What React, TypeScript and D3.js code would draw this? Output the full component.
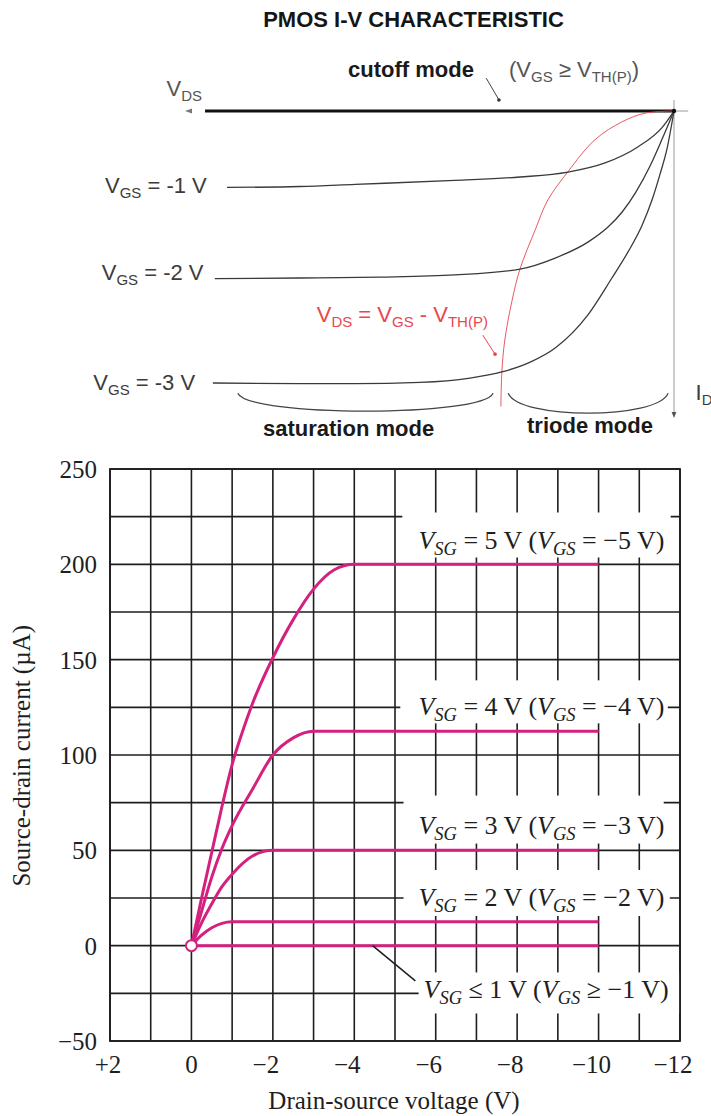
import React from "react";
import * as d3 from "d3";

const WIDTH = 711;
const HEIGHT = 1116;

const SANS = "'Liberation Sans', Arial, Helvetica, sans-serif";
const SERIF = "'Liberation Serif', 'Times New Roman', Times, serif";
const MAGENTA = "#d4217f";
const SKETCH_RED = "#e8474f";

// ---------- Lower chart: PMOS output characteristics ----------
const vdsTicks = [2, 0, -2, -4, -6, -8, -10, -12];
const vdsTickLabels = ["+2", "0", "−2", "−4", "−6", "−8", "−10", "−12"];
const idTicks = [250, 200, 150, 100, 50, 0, -50];
const idTickLabels = ["250", "200", "150", "100", "50", "0", "−50"];

// drain-source voltage (V) and source-drain current (µA) for each V_SG
const vdsSg5 = [0, -0.25, -0.5, -0.75, -1, -1.25, -1.5, -2, -2.5, -3, -3.5, -4, -10];
const idSg5 = [0, 25, 49, 73, 95, 112, 127, 151, 171, 187, 197, 200, 200];
const vdsSg4 = [0, -0.25, -0.5, -0.75, -1, -1.5, -2, -2.5, -3, -10];
const idSg4 = [0, 18, 36, 51, 63, 82, 100, 109, 112.5, 112.5];
const vdsSg3 = [0, -0.25, -0.5, -0.75, -1, -1.5, -2, -10];
const idSg3 = [0, 12, 22, 31, 37.5, 47, 50, 50];
const vdsSg2 = [0, -0.25, -0.5, -0.75, -1, -10];
const idSg2 = [0, 5.5, 9.4, 11.7, 12.5, 12.5];
const vdsSg1 = [0, -10];
const idSg1 = [0, 0];

const outputCurves = [
  { vds: vdsSg5, id: idSg5 },
  { vds: vdsSg4, id: idSg4 },
  { vds: vdsSg3, id: idSg3 },
  { vds: vdsSg2, id: idSg2 },
  { vds: vdsSg1, id: idSg1 },
];

// curve captions: V_SG (rel) value V (V_GS (rel) value V)
const captionSgRel = ["=", "=", "=", "=", "≤"];
const captionSgVal = ["5", "4", "3", "2", "1"];
const captionGsRel = ["=", "=", "=", "=", "≥"];
const captionGsVal = ["−5", "−4", "−3", "−2", "−1"];

// caption placement: text start (V), centre line (µA), cleared box (V) and pixel padding
const captionLayout = [
  { tx: -5.575, cy: 212.5, bx0: -5.18, bx1: -11.77, up: 28, down: 17 },
  { tx: -5.575, cy: 125, bx0: -5.13, bx1: -11.7, up: 27, down: 16 },
  { tx: -5.575, cy: 63, bx0: -5.21, bx1: -11.6, up: 30, down: 18 },
  { tx: -5.575, cy: 25, bx0: -5.21, bx1: -11.75, up: 28, down: 18 },
  { tx: -5.7, cy: -23.5, bx0: -5.58, bx1: -12, up: 18, down: 23 },
];

// pointer from the cut-off trace to its caption
const cutoffPointerV = [-4.45, -5.5];
const cutoffPointerI = [0, -18.5];

// ---------- Upper sketch: qualitative I-V curves (arbitrary units) ----------
const sketchVgs1V = [-9.14, -7.65, -6.52, -4.48, -3.15, -2.17, -1.41, -0.74, -0.25, 0];
const sketchVgs1I = [-2.49, -2.46, -2.39, -2.26, -2.15, -1.99, -1.69, -1.17, -0.55, 0];
const sketchVgs2V = [-9.39, -7.65, -6.01, -4.48, -3.15, -2.43, -1.76, -1.35, -1.06, -0.78, -0.49, -0.25, 0];
const sketchVgs2I = [-5.46, -5.44, -5.41, -5.34, -5.15, -4.79, -4.27, -3.78, -3.29, -2.64, -1.79, -0.94, 0];
const sketchVgs3V = [-9.43, -7.65, -6.52, -5.19, -4.17, -3.52, -2.94, -2.43, -1.76, -1.27, -0.94, -0.65, -0.45, -0.29, -0.14, 0];
const sketchVgs3I = [-8.86, -8.88, -8.88, -8.84, -8.7, -8.5, -8.18, -7.72, -6.64, -5.44, -4.59, -3.71, -2.9, -2.08, -1.21, 0];
const sketchEdgeV = [0, -0.59, -1.06, -1.62, -2.17, -2.58, -2.84, -3.15, -3.31, -3.46, -3.52, -3.54];
const sketchEdgeI = [0, -0.07, -0.35, -0.94, -1.98, -2.9, -3.88, -5.15, -6.16, -7.46, -8.5, -9.63];

const sketchCutoffV = [-9.59, 0];
const sketchCutoffI = [0, 0];

const zip = (a: number[], b: number[]): [number, number][] => a.map((v, i) => [v, b[i]]);

// Renders a run of text pieces, lowering and shrinking the ones marked as subscripts.
type Piece = [string, boolean];
function pieces(parts: Piece[], subSize: number, drop: number, italicSub = false) {
  let lowered = false;
  return parts.map(([txt, isSub], i) => {
    let dy: number | undefined;
    if (isSub && !lowered) dy = drop;
    if (!isSub && lowered) dy = -drop;
    lowered = isSub;
    return (
      <tspan
        key={i}
        dy={dy}
        fontSize={isSub ? subSize : undefined}
        fontStyle={isSub && italicSub ? "italic" : undefined}
      >
        {txt}
      </tspan>
    );
  });
}

export default function App() {
  // lower chart scales
  const x = d3.scaleLinear().domain([2, -12]).range([110, 680]);
  const y = d3.scaleLinear().domain([-50, 250]).range([1041, 469]);
  const gridV = d3.range(2, -12.5, -1);
  const gridH = d3.range(-50, 251, 25);
  const curveLine = d3
    .line<[number, number]>()
    .x((d) => x(d[0]))
    .y((d) => y(d[1]))
    .curve(d3.curveMonotoneX);

  // sketch scales
  const sx = d3.scaleLinear().domain([0, -10]).range([674, 185]);
  const sy = d3.scaleLinear().domain([0, -10]).range([111, 418]);
  const sketchLine = d3
    .line<[number, number]>()
    .x((d) => sx(d[0]))
    .y((d) => sy(d[1]))
    .curve(d3.curveMonotoneX);
  const edgeLine = d3
    .line<[number, number]>()
    .x((d) => sx(d[0]))
    .y((d) => sy(d[1]))
    .curve(d3.curveCatmullRom.alpha(0.5));

  const brace = (v0: number, v1: number, i0: number, depth: number) => {
    const x0 = sx(v0), x1 = sx(v1), y0 = sy(i0);
    const c = (depth * 4) / 3;
    return `M${x0},${y0} C${x0 + 10},${y0 + c} ${x1 - 10},${y0 + c} ${x1},${y0}`;
  };

  const textGrey = "#3c3c3c";

  return (
    <svg
      width={WIDTH}
      height={HEIGHT}
      viewBox={`0 0 ${WIDTH} ${HEIGHT}`}
      style={{ position: "absolute", left: 0, top: 0, display: "block", background: "#fff" }}
    >
      <rect width={WIDTH} height={HEIGHT} fill="#fff" />

      {/* ---------------- upper sketch ---------------- */}
      <g fontFamily={SANS}>
        <text x={413.5} y={27} textAnchor="middle" fontSize={22} fontWeight="bold" fill="#151515">
          PMOS I-V CHARACTERISTIC
        </text>

        {/* axes */}
        <line x1={sx(-9.59)} x2={sx(0.29)} y1={sy(0)} y2={sy(0)} stroke="#9a9a9a" strokeWidth={1} />
        <path d={`M${sx(-10)},${sy(0)} l7,-2.6 l0,5.2 z`} fill="#777" />
        <line x1={sx(0)} x2={sx(0)} y1={sy(0.36)} y2={sy(-10) - 4} stroke="#9a9a9a" strokeWidth={1} />
        <path d={`M${sx(0)},${sy(-10)} l-2.4,-6 l4.8,0 z`} fill="#555" />

        {/* cut-off trace */}
        <path
          d={sketchLine(zip(sketchCutoffV, sketchCutoffI)) || ""}
          fill="none"
          stroke="#111"
          strokeWidth={2.8}
        />

        {/* saturation boundary */}
        <path
          d={edgeLine(zip(sketchEdgeV, sketchEdgeI)) || ""}
          fill="none"
          stroke={SKETCH_RED}
          strokeWidth={1}
          opacity={0.9}
        />

        {/* V_GS curves */}
        {[zip(sketchVgs1V, sketchVgs1I), zip(sketchVgs2V, sketchVgs2I), zip(sketchVgs3V, sketchVgs3I)].map((pts, i) => (
          <path key={i} d={sketchLine(pts) || ""} fill="none" stroke="#3a3a3a" strokeWidth={1.3} />
        ))}
        <circle cx={sx(0)} cy={sy(0)} r={2.2} fill="#111" />

        {/* region braces */}
        <path d={brace(-8.92, -3.7, -9.19, 18)} fill="none" stroke="#444" strokeWidth={1.3} />
        <path d={brace(-3.39, -0.12, -9.19, 20)} fill="none" stroke="#444" strokeWidth={1.3} />

        {/* pointers */}
        <line x1={sx(-3.84)} y1={sy(1.07)} x2={sx(-3.58)} y2={sy(0.36)} stroke="#444" strokeWidth={1} />
        <circle cx={sx(-3.58)} cy={sy(0.36)} r={1.8} fill="#333" />
        <line x1={sx(-3.91)} y1={sy(-7.3)} x2={sx(-3.66)} y2={sy(-7.92)} stroke={SKETCH_RED} strokeWidth={1} />
        <circle cx={sx(-3.66)} cy={sy(-7.92)} r={1.8} fill={SKETCH_RED} />

        {/* labels */}
        <text x={166.5} y={96} fontSize={22} fill="#555">
          {pieces([["V", false], ["DS", true]], 15, 5)}
        </text>
        <text x={348} y={77} fontSize={22} fontWeight="bold" fill="#1a1a1a">
          cutoff mode
        </text>
        <text x={509} y={77} fontSize={22} fill="#555">
          {pieces([["(V", false], ["GS", true], [" ≥ V", false], ["TH(P)", true], [")", false]], 15, 5)}
        </text>
        <text x={105} y={193} fontSize={22} fill={textGrey}>
          {pieces([["V", false], ["GS", true], [" = -1 V", false]], 15, 5)}
        </text>
        <text x={101.7} y={280} fontSize={22} fill={textGrey}>
          {pieces([["V", false], ["GS", true], [" = -2 V", false]], 15, 5)}
        </text>
        <text x={93.3} y={390} fontSize={22} fill={textGrey}>
          {pieces([["V", false], ["GS", true], [" = -3 V", false]], 15, 5)}
        </text>
        <text x={316.7} y={321.7} fontSize={22} fill={SKETCH_RED}>
          {pieces(
            [["V", false], ["DS", true], [" = V", false], ["GS", true], [" - V", false], ["TH(P)", true]],
            15,
            5
          )}
        </text>
        <text x={263} y={436} fontSize={22} fontWeight="bold" fill="#1a1a1a">
          saturation mode
        </text>
        <text x={527} y={433} fontSize={22} fontWeight="bold" fill="#1a1a1a">
          triode mode
        </text>
        <text x={695.5} y={400} fontSize={22} fill={textGrey}>
          {pieces([["I", false], ["D", true]], 15, 5)}
        </text>
      </g>

      {/* ---------------- lower chart ---------------- */}
      <g fontFamily={SERIF}>
        {/* grid */}
        <g stroke="#1e1e1e" strokeWidth={1.6}>
          {gridV.map((v) => (
            <line key={`v${v}`} x1={x(v)} x2={x(v)} y1={y(250)} y2={y(-50)} />
          ))}
          {gridH.map((h) => (
            <line key={`h${h}`} x1={x(2)} x2={x(-12)} y1={y(h)} y2={y(h)} />
          ))}
        </g>

        {/* cleared backgrounds behind captions */}
        {captionLayout.map((c, i) => (
          <rect
            key={`box${i}`}
            x={x(c.bx0)}
            y={y(c.cy) - c.up}
            width={x(c.bx1) - x(c.bx0)}
            height={c.up + c.down}
            fill="#fff"
          />
        ))}

        {/* plot frame */}
        <rect
          x={x(2)}
          y={y(250)}
          width={x(-12) - x(2)}
          height={y(-50) - y(250)}
          fill="none"
          stroke="#1e1e1e"
          strokeWidth={1.8}
        />

        {/* characteristic curves */}
        {outputCurves.map((c, i) => (
          <path
            key={`c${i}`}
            d={curveLine(zip(c.vds, c.id)) || ""}
            fill="none"
            stroke={MAGENTA}
            strokeWidth={3}
            strokeLinejoin="round"
          />
        ))}

        {/* pointer to the cut-off caption */}
        <line
          x1={x(cutoffPointerV[0])}
          y1={y(cutoffPointerI[0])}
          x2={x(cutoffPointerV[1])}
          y2={y(cutoffPointerI[1])}
          stroke="#1e1e1e"
          strokeWidth={1.5}
        />

        <circle cx={x(0)} cy={y(0)} r={5.5} fill="#fff" stroke={MAGENTA} strokeWidth={2} />

        {/* captions */}
        {captionLayout.map((c, i) => (
          <text key={`t${i}`} x={x(c.tx)} y={y(c.cy) + 8} fontSize={26} fill="#1e1e1e">
            <tspan fontStyle="italic">V</tspan>
            <tspan fontStyle="italic" fontSize={18.5} dy={6}>SG</tspan>
            <tspan dy={-6}>{` ${captionSgRel[i]} ${captionSgVal[i]} V (`}</tspan>
            <tspan fontStyle="italic">V</tspan>
            <tspan fontStyle="italic" fontSize={18.5} dy={6}>GS</tspan>
            <tspan dy={-6}>{` ${captionGsRel[i]} ${captionGsVal[i]} V)`}</tspan>
          </text>
        ))}

        {/* tick labels */}
        {idTicks.map((t, i) => (
          <text key={`yt${t}`} x={97} y={y(t) + 9} textAnchor="end" fontSize={25} fill="#1e1e1e">
            {idTickLabels[i]}
          </text>
        ))}
        {vdsTicks.map((t, i) => {
          const lbl = vdsTickLabels[i];
          const shift = lbl.startsWith("−") ? -7 : lbl.startsWith("+") ? -2 : 0;
          return (
            <text key={`xt${t}`} x={x(t) + shift} y={1073} textAnchor="middle" fontSize={25} fill="#1e1e1e">
              {lbl}
            </text>
          );
        })}

        {/* axis titles */}
        <text x={(x(2) + x(-12)) / 2 - 1} y={1109} textAnchor="middle" fontSize={25} fill="#1e1e1e">
          Drain-source voltage (V)
        </text>
        <text
          transform={`translate(30,${755.8}) rotate(-90)`}
          textAnchor="middle"
          fontSize={25}
          fill="#1e1e1e"
        >
          Source-drain current (µA)
        </text>
      </g>
    </svg>
  );
}
